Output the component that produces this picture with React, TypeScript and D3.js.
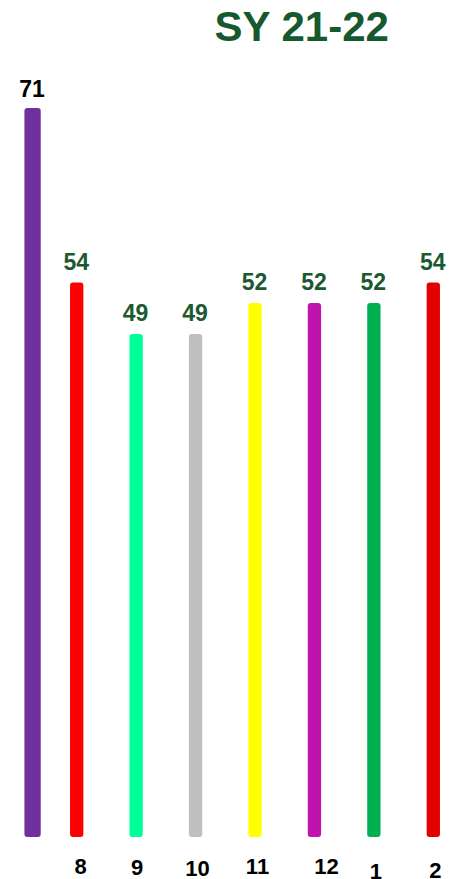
import React from "react";
import * as d3 from "d3";

const categories = ["", "8", "9", "10", "11", "12", "1", "2"];
const values = [71, 54, 49, 49, 52, 52, 52, 54];
const barColors = ["#7030a0", "#ff0000", "#00ff99", "#bfbfbf", "#ffff00", "#c012ad", "#00b050", "#e30000"];
const valueLabelColors = ["#000000", "#1b5a31", "#1b5a31", "#1b5a31", "#1b5a31", "#1b5a31", "#1b5a31", "#1b5a31"];
const title = "SY 21-22";

// layout nudges (hand-placed in the original)
const barShift = [15.3, 0, 0, 0, 0, 0, 0, 0];
const barExtraWidth = [3, 0, 0, 0, 0, 0, 0, 0];
const labelNudgeX = [0, 4, 1, 2, 2.5, 12, 2, 2];
const labelNudgeY = [0, 0, 1, 1.5, -0.5, -0.5, 4.5, 4];

const W = 454;
const H = 879;

export default function App() {
  const step = (433.3 - 76.7) / 6;
  const x = d3
    .scaleBand<string>()
    .domain(categories)
    .range([76.7 - step * 1.5, 433.3 + step * 0.5])
    .paddingInner(0.776)
    .paddingOuter(0.388);
  const y = d3.scaleLinear().domain([0, 71]).range([837, 108]);
  const bw = x.bandwidth();

  return (
    <svg
      width={W}
      height={H}
      style={{ position: "absolute", left: 0, top: 0, background: "#fff" }}
      fontFamily="'Liberation Sans', Arial, sans-serif"
    >
      <text x={301.7} y={40.5} textAnchor="middle" fontSize={42} fontWeight="bold" fill="#17592f">
        {title}
      </text>
      {categories.map((c, i) => {
        const cx = (x(c) ?? 0) + bw / 2 + barShift[i];
        const w = bw + barExtraWidth[i];
        const top = y(values[i]);
        return (
          <g key={i}>
            <rect x={cx - w / 2} y={top} width={w} height={837 - top} rx={3} ry={3} fill={barColors[i]} />
            <text
              x={cx - 0.5}
              y={top - (i === 0 ? 11.3 : 13)}
              textAnchor="middle"
              fontSize={23}
              fontWeight="bold"
              fill={valueLabelColors[i]}
            >
              {values[i]}
            </text>
            {c && (
              <text
                x={cx + labelNudgeX[i]}
                y={874.2 + labelNudgeY[i]}
                textAnchor="middle"
                fontSize={22}
                fontWeight="bold"
                fill="#000"
              >
                {c}
              </text>
            )}
          </g>
        );
      })}
    </svg>
  );
}
